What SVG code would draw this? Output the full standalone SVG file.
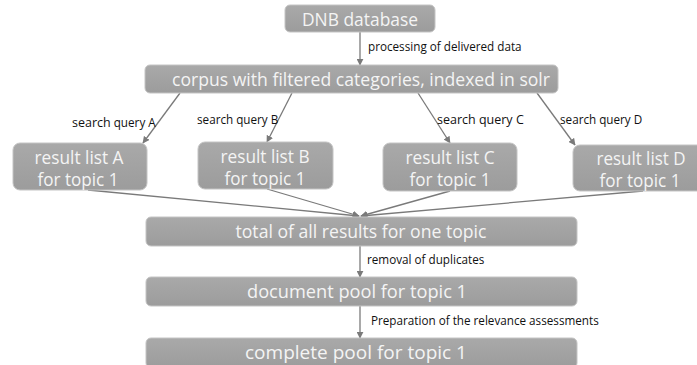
<svg xmlns="http://www.w3.org/2000/svg" width="697" height="365" viewBox="0 0 697 365">
<defs>
<linearGradient id="g" x1="0" y1="0" x2="0" y2="1">
<stop offset="0" stop-color="#a9a9a9"/>
<stop offset="1" stop-color="#9c9c9c"/>
</linearGradient>
<marker id="ah" viewBox="0 0 10 10" refX="9" refY="5" markerWidth="7" markerHeight="7" markerUnits="userSpaceOnUse" orient="auto">
<path d="M0,0 L10,5 L0,10 z" fill="#7a7a7a"/>
</marker>
</defs>
<style>
.box{fill:url(#g);stroke:#c4c4c4;stroke-width:1}
.bt{font-family:"Open Sans","Noto Sans",sans-serif;fill:#f4f4f4;text-anchor:middle;font-size:19px}
.rt{font-family:"Open Sans","Noto Sans",sans-serif;fill:#f4f4f4;text-anchor:middle;font-size:18px}
.lbl{font-family:"Open Sans","Noto Sans",sans-serif;font-size:11.7px;fill:#111}
.c{stroke:#7a7a7a;stroke-width:1.3;fill:none;marker-end:url(#ah)}
</style>
<rect width="697" height="365" fill="#fff"/>
<g id="connectors">
<line class="c" x1="360" y1="32" x2="360" y2="65"/>
<line class="c" x1="180" y1="93" x2="143" y2="143"/>
<line class="c" x1="292" y1="93" x2="267" y2="142"/>
<line class="c" x1="418" y1="93" x2="450" y2="143"/>
<line class="c" x1="537" y1="93" x2="575" y2="145"/>
<line class="c" x1="88" y1="190" x2="359" y2="216"/>
<line class="c" x1="267" y1="189" x2="359" y2="216"/>
<line class="c" x1="450" y1="191" x2="361" y2="216"/>
<line class="c" x1="643" y1="191" x2="361" y2="216"/>
<line class="c" x1="360" y1="246" x2="360" y2="277"/>
<line class="c" x1="360" y1="306" x2="360" y2="338"/>
</g>
<g id="labels">
<text class="lbl" x="368" y="51">processing of delivered data</text>
<text class="lbl" x="72" y="127"><tspan font-size="12.5">search</tspan> query A</text>
<text class="lbl" x="197" y="124">search query B</text>
<text class="lbl" x="437" y="124"><tspan font-size="12.5">search query C</tspan></text>
<text class="lbl" x="560" y="124">search query D</text>
<text class="lbl" x="367" y="264">removal of duplicates</text>
<text class="lbl" x="371" y="325">Preparation of the relevance assessments</text>
</g>
<g id="dnb">
<rect class="box" x="285" y="5" width="150" height="27" rx="5"/>
<text class="bt" x="360" y="26" textLength="116" lengthAdjust="spacingAndGlyphs">DNB database</text>
</g>
<g id="corpus">
<rect class="box" x="145" y="65" width="413" height="28" rx="5"/>
<text class="bt" x="361" y="86" textLength="378" lengthAdjust="spacingAndGlyphs">corpus with filtered categories, indexed in solr</text>
</g>
<g id="resultA">
<rect class="box" x="13" y="143" width="134" height="47" rx="7"/>
<text class="rt" x="79" y="164" textLength="89" lengthAdjust="spacingAndGlyphs">result list A</text>
<text class="rt" x="78" y="186" textLength="81" lengthAdjust="spacingAndGlyphs">for topic 1</text>
</g>
<g id="resultB">
<rect class="box" x="198" y="142" width="135" height="47" rx="7"/>
<text class="rt" x="265" y="163" textLength="89" lengthAdjust="spacingAndGlyphs">result list B</text>
<text class="rt" x="265" y="185" textLength="81" lengthAdjust="spacingAndGlyphs">for topic 1</text>
</g>
<g id="resultC">
<rect class="box" x="383" y="143" width="134" height="48" rx="7"/>
<text class="rt" x="450" y="164" textLength="89" lengthAdjust="spacingAndGlyphs">result list C</text>
<text class="rt" x="450" y="186" textLength="81" lengthAdjust="spacingAndGlyphs">for topic 1</text>
</g>
<g id="resultD">
<rect class="box" x="573" y="145" width="134" height="46" rx="7"/>
<text class="rt" x="641" y="165" textLength="89" lengthAdjust="spacingAndGlyphs">result list D</text>
<text class="rt" x="640" y="187" textLength="81" lengthAdjust="spacingAndGlyphs">for topic 1</text>
</g>
<g id="total">
<rect class="box" x="146" y="217" width="431" height="29" rx="5"/>
<text class="bt" x="361" y="238" textLength="251" lengthAdjust="spacingAndGlyphs">total of all results for one topic</text>
</g>
<g id="docpool">
<rect class="box" x="146" y="277" width="431" height="29" rx="5"/>
<text class="bt" x="357" y="298" textLength="220" lengthAdjust="spacingAndGlyphs">document pool for topic 1</text>
</g>
<g id="complete">
<rect class="box" x="146" y="338" width="431" height="30" rx="5"/>
<text class="bt" x="356" y="359" textLength="222" lengthAdjust="spacingAndGlyphs">complete pool for topic 1</text>
</g>
</svg>
